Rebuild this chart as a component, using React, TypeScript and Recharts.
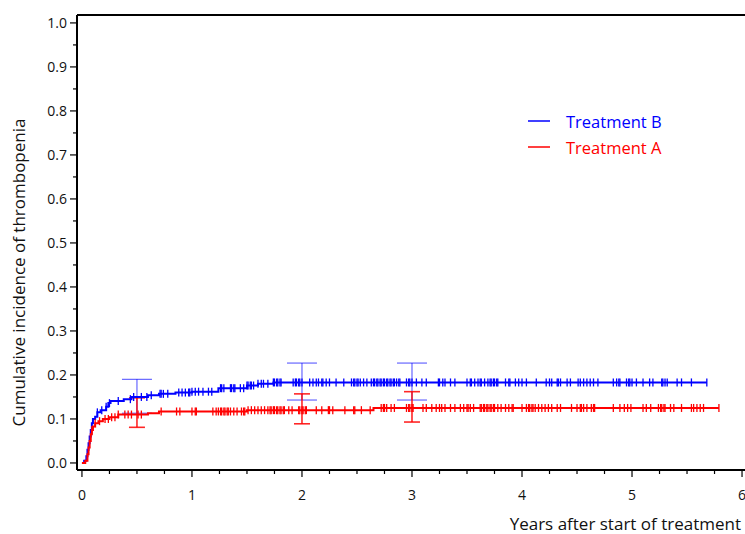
import React from 'react';
import {
  ComposedChart,
  Line,
  Scatter,
  ErrorBar,
  XAxis,
  YAxis,
  Legend,
  ReferenceLine
} from 'recharts';

// step curves (event times in years, cumulative incidence)
const timesB = [0, 0.02, 0.04, 0.05, 0.06, 0.07, 0.08, 0.09, 0.1, 0.12, 0.14, 0.17, 0.22, 0.24, 0.26, 0.38, 0.45, 0.6, 0.7, 0.85, 1.0, 1.24, 1.5, 1.6, 1.74, 5.68];
const incidenceB = [0, 0.005, 0.015, 0.03, 0.045, 0.06, 0.075, 0.09, 0.1, 0.105, 0.115, 0.12, 0.128, 0.136, 0.141, 0.145, 0.15, 0.154, 0.157, 0.16, 0.162, 0.17, 0.176, 0.18, 0.183, 0.183];

const timesA = [0, 0.03, 0.05, 0.06, 0.07, 0.08, 0.09, 0.1, 0.12, 0.15, 0.19, 0.25, 0.33, 0.6, 0.7, 1.5, 2.65, 5.79];
const incidenceA = [0, 0.005, 0.02, 0.035, 0.05, 0.065, 0.075, 0.083, 0.09, 0.095, 0.1, 0.104, 0.11, 0.113, 0.117, 0.12, 0.125, 0.125];

// censoring times
const censorB = [
  0.14, 0.18, 0.22, 0.25, 0.33, 0.44, 0.47, 0.54, 0.59, 0.63, 0.71, 0.72, 0.74, 0.78, 0.88, 0.91, 0.94, 0.97, 0.98,
  1.0, 1.03, 1.06, 1.1, 1.15, 1.18, 1.26, 1.27, 1.29, 1.35, 1.36, 1.38, 1.39,
  1.44, 1.47, 1.5, 1.51, 1.53, 1.54, 1.56, 1.6, 1.63, 1.65, 1.69, 1.74, 1.75, 1.77, 1.78, 1.8, 1.81, 1.92, 1.94, 1.95, 1.97, 1.98,
  2.0, 2.07, 2.1, 2.13, 2.15, 2.18, 2.19, 2.22, 2.25, 2.31, 2.38, 2.45, 2.47, 2.48, 2.5, 2.51, 2.53, 2.56, 2.59, 2.63, 2.65, 2.66,
  2.68, 2.69, 2.71, 2.72, 2.74, 2.75, 2.77, 2.78, 2.8, 2.81, 2.83, 2.84, 2.86, 2.88, 2.89, 2.95, 2.97, 2.98,
  3.0, 3.04, 3.09, 3.13, 3.24, 3.25, 3.28, 3.3, 3.35, 3.39, 3.5, 3.53, 3.54, 3.57, 3.6, 3.62,
  3.63, 3.66, 3.69, 3.71, 3.72, 3.74, 3.75, 3.77, 3.78, 3.85, 3.88, 3.89, 3.94, 3.97,
  4.0, 4.04, 4.13, 4.22, 4.25, 4.27, 4.32, 4.33, 4.35, 4.41, 4.44, 4.51, 4.53, 4.56, 4.59, 4.62, 4.65, 4.69, 4.83, 4.86, 4.88, 4.89, 4.95, 4.97, 4.98,
  5.0, 5.04, 5.1, 5.16, 5.19, 5.27, 5.28, 5.3, 5.32, 5.41, 5.45, 5.54, 5.68
];
const censorA = [
  0.09, 0.12, 0.16, 0.21, 0.24, 0.27, 0.3, 0.33, 0.39, 0.42, 0.45, 0.51, 0.54, 0.72, 0.86, 0.89,
  1.0, 1.03, 1.04, 1.19, 1.22, 1.24, 1.26, 1.27, 1.29, 1.3, 1.32, 1.33, 1.35, 1.38, 1.41,
  1.45, 1.47, 1.48, 1.51, 1.54, 1.57, 1.6, 1.63, 1.66, 1.69, 1.71, 1.72, 1.74, 1.75, 1.77, 1.78, 1.8, 1.81, 1.83, 1.84, 1.88, 1.91, 1.97, 1.98,
  2.0, 2.01, 2.03, 2.04, 2.13, 2.18, 2.24, 2.25, 2.28, 2.39, 2.47, 2.48, 2.54, 2.62, 2.72, 2.74, 2.75, 2.77, 2.81, 2.84, 2.95, 2.97, 2.98,
  3.0, 3.01, 3.1, 3.13, 3.18, 3.22, 3.25, 3.27, 3.3, 3.35, 3.39, 3.44, 3.47, 3.5, 3.51, 3.53, 3.56, 3.62,
  3.63, 3.65, 3.66, 3.68, 3.69, 3.71, 3.72, 3.74, 3.75, 3.78, 3.81, 3.85, 3.88, 3.91, 3.92,
  4.0, 4.04, 4.06, 4.07, 4.09, 4.1, 4.12, 4.15, 4.18, 4.21, 4.24, 4.27, 4.32, 4.35, 4.45, 4.5, 4.53, 4.54, 4.56, 4.59, 4.63, 4.65, 4.66,
  4.83, 4.89, 4.93, 4.96, 4.99, 5.1, 5.13, 5.17, 5.24, 5.26, 5.27, 5.29, 5.3, 5.35, 5.38, 5.45, 5.54, 5.56, 5.59, 5.62, 5.65, 5.79
];

// confidence intervals at 0.5, 2 and 3 years
const ciTimes = [0.5, 2, 3];
const ciMidB = [0.15, 0.183, 0.183];
const ciLowB = [0.113, 0.143, 0.143];
const ciHighB = [0.19, 0.227, 0.227];
const ciMidA = [0.113, 0.12, 0.125];
const ciLowA = [0.081, 0.089, 0.093];
const ciHighA = [0.148, 0.157, 0.162];

const xTicks = [0, 0.25, 0.5, 0.75, 1, 1.25, 1.5, 1.75, 2, 2.25, 2.5, 2.75, 3, 3.25, 3.5, 3.75, 4, 4.25, 4.5, 4.75, 5, 5.25, 5.5, 5.75, 6];
const yTicks = [0, 0.05, 0.1, 0.15, 0.2, 0.25, 0.3, 0.35, 0.4, 0.45, 0.5, 0.55, 0.6, 0.65, 0.7, 0.75, 0.8, 0.85, 0.9, 0.95, 1];

const legendItems = [
  { name: 'Treatment B', color: '#0000ff' },
  { name: 'Treatment A', color: '#ff0000' }
];

const FONT = '"Open Sans", "DejaVu Sans", sans-serif';
const BLUE = '#0000ff';
const RED = '#ff0000';

const toSteps = (times: number[], vals: number[]) => times.map((t, i) => ({ t, v: vals[i] }));

const valueAt = (times: number[], vals: number[], t: number) => {
  let v = vals[0];
  for (let i = 0; i < times.length; i++) {
    if (times[i] <= t) v = vals[i];
  }
  return v;
};

const toCensor = (cens: number[], times: number[], vals: number[]) =>
  cens.map((t) => ({ t, v: valueAt(times, vals, t) }));

const toCi = (mid: number[], low: number[], high: number[]) =>
  ciTimes.map((t, i) => ({ t, v: mid[i], err: [mid[i] - low[i], high[i] - mid[i]] }));

const stepsB = toSteps(timesB, incidenceB);
const stepsA = toSteps(timesA, incidenceA);
const marksB = toCensor(censorB, timesB, incidenceB);
const marksA = toCensor(censorA, timesA, incidenceA);
const ciB = toCi(ciMidB, ciLowB, ciHighB);
const ciA = toCi(ciMidA, ciLowA, ciHighA);

const isMajor = (v: number, step: number) => Math.abs(v / step - Math.round(v / step)) < 1e-6;

const XTick = ({ x, y, payload }: any) => {
  const major = isMajor(payload.value, 1);
  return (
    <g>
      <line x1={x} x2={x} y1={y} y2={y + (major ? 7 : 4)} stroke="#000" strokeWidth={1.2} />
      {major && (
        <text x={x} y={y + 30} textAnchor="middle" fontSize={14} fontFamily={FONT} fill="#111">
          {payload.value}
        </text>
      )}
    </g>
  );
};

const YTick = ({ x, y, payload }: any) => {
  const major = isMajor(payload.value, 0.1);
  return (
    <g>
      <line x1={x} x2={x - (major ? 7 : 4)} y1={y} y2={y} stroke="#000" strokeWidth={1.2} />
      {major && (
        <text x={x - 10} y={y + 5} textAnchor="end" fontSize={14} fontFamily={FONT} fill="#111">
          {payload.value.toFixed(1)}
        </text>
      )}
    </g>
  );
};

const censorShape = (color: string) => (props: any) => (
  <line x1={props.cx} x2={props.cx} y1={props.cy - 4} y2={props.cy + 4} stroke={color} strokeWidth={1.3} />
);

const noShape = () => <g />;

const LegendBox = () => (
  <div style={{ fontFamily: FONT, fontSize: 16.5 }}>
    {legendItems.map((item) => (
      <div key={item.name} style={{ display: 'flex', alignItems: 'center', height: 26 }}>
        <svg width={38} height={10}>
          <line x1={0} x2={22} y1={5} y2={5} stroke={item.color} strokeWidth={1.5} />
        </svg>
        <span style={{ color: item.color }}>{item.name}</span>
      </div>
    ))}
  </div>
);

const App: React.FC = () => {
  return (
    <div style={{ position: 'absolute', left: 0, top: 0, background: '#fff' }}>
      <ComposedChart width={745} height={534} margin={{ top: 15, right: 0, bottom: 24, left: 0 }}>
        <XAxis
          dataKey="t"
          type="number"
          domain={[-0.045, 6.027]}
          ticks={xTicks}
          interval={0}
          allowDataOverflow
          height={40}
          tickSize={0}
          tickMargin={0}
          tickLine={false}
          tick={<XTick />}
          axisLine={{ stroke: '#000', strokeWidth: 2 }}
          label={{
            content: ({ viewBox }: any) => (
              <text x={viewBox.x + viewBox.width - 4} y={viewBox.y + 60} textAnchor="end" fontSize={17} fontFamily={FONT} fill="#111">
                Years after start of treatment
              </text>
            )
          }}
        />
        <YAxis
          dataKey="v"
          type="number"
          domain={[-0.016, 1.018]}
          ticks={yTicks}
          interval={0}
          allowDataOverflow
          width={77}
          tickSize={0}
          tickMargin={0}
          tickLine={false}
          tick={<YTick />}
          axisLine={{ stroke: '#000', strokeWidth: 2 }}
          label={{
            content: ({ viewBox }: any) => {
              const cx = 18;
              const cy = viewBox.y + viewBox.height / 2 + 30;
              return (
                <text x={cx} y={cy} transform={`rotate(-90 ${cx} ${cy})`} textAnchor="middle" dominantBaseline="central" fontSize={17} fontFamily={FONT} fill="#111">
                  Cumulative incidence of thrombopenia
                </text>
              );
            }
          }}
        />
        <ReferenceLine y={1.018} stroke="#000" strokeWidth={2} />

        <Scatter data={ciB} shape={noShape} isAnimationActive={false}>
          <ErrorBar dataKey="err" direction="y" width={15} stroke={BLUE} strokeOpacity={0.6} strokeWidth={1.2} isAnimationActive={false} />
        </Scatter>
        <Scatter data={ciA} shape={noShape} isAnimationActive={false}>
          <ErrorBar dataKey="err" direction="y" width={8} stroke={RED} strokeOpacity={0.85} strokeWidth={1.6} isAnimationActive={false} />
        </Scatter>

        <Line data={stepsB} dataKey="v" type="stepAfter" stroke={BLUE} strokeWidth={2} dot={false} activeDot={false} isAnimationActive={false} />
        <Line data={stepsA} dataKey="v" type="stepAfter" stroke={RED} strokeWidth={2} dot={false} activeDot={false} isAnimationActive={false} />

        <Scatter data={marksB} shape={censorShape(BLUE)} isAnimationActive={false} />
        <Scatter data={marksA} shape={censorShape(RED)} isAnimationActive={false} />

        <Legend
          layout="vertical"
          align="center"
          verticalAlign="middle"
          content={<LegendBox />}
          wrapperStyle={{ left: 528, top: 108, width: 200 }}
        />
      </ComposedChart>
    </div>
  );
};

export default App;
